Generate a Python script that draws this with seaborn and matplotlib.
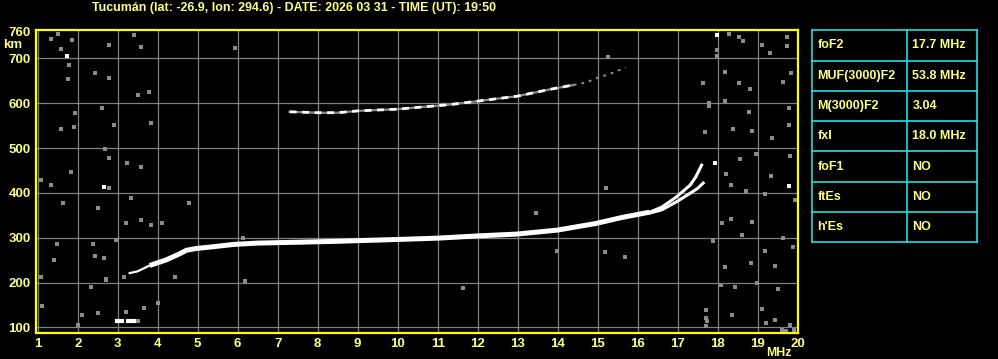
import matplotlib
matplotlib.use("Agg")
import matplotlib.pyplot as plt
import seaborn as sns
import pandas as pd

# ---------------- data ----------------
title = "Tucumán (lat: -26.9, lon: 294.6) - DATE: 2026 03 31 - TIME (UT): 19:50"

x_ticks = list(range(1, 21))
y_ticks = [100, 200, 300, 400, 500, 600, 700, 760]

# F2 ordinary trace (MHz, km)
o_freq = [3.3, 3.5, 3.8, 4.2, 4.5, 4.72, 4.97, 5.3, 5.9, 6.5, 7.56, 8.5, 9.97, 11.0, 12.0, 12.97, 14.0, 14.97, 15.6, 16.3, 16.6, 16.97, 17.31, 17.45, 17.6]
o_h = [221, 225, 238, 250, 262, 272, 276, 279, 285, 288, 290, 292, 296, 299, 304, 308, 317, 332, 345, 357, 368, 391, 417, 435, 462]

# extraordinary branch
x_freq = [16.3, 16.6, 16.97, 17.31, 17.5, 17.64]
x_h = [355, 362, 380, 399, 410, 422]

# second hop
hop_freq = [7.3, 8.0, 8.5, 9.0, 10.0, 11.3, 12.1, 13.0, 13.8, 14.4]
hop_h = [581, 579, 579, 583, 587, 597, 606, 616, 631, 641]
hop_tail_freq = [14.4, 14.7, 15.0, 15.35, 15.7]
hop_tail_h = [641, 646, 657, 667, 680]

# low echo blobs
blob_a_freq = [2.98, 3.1]
blob_b_freq = [3.27, 3.42]
blob_h = [113, 113]

# gray noise echoes
noise_f = [1.52, 1.86, 1.33, 1.58, 2.79, 3.42, 3.58, 1.78, 1.75, 2.44, 2.78, 3.5, 3.79, 1.94, 2.62,
           1.92, 2.92, 3.83, 1.58, 2.69, 2.78, 3.23, 3.58, 1.83, 1.08, 1.33, 2.78, 3.34, 2.52, 1.63,
           3.22, 3.58, 3.83, 4.12, 1.48, 2.39, 2.67, 2.43, 3.15, 2.72, 1.08, 2.33, 2.52, 2.12, 1.12,
           3.21, 3.66, 4.0, 2.02, 1.42, 2.96, 6.14, 6.18, 4.78, 4.43, 13.47, 13.98, 15.18, 15.68,
           15.27, 15.22, 18.08, 2.72, 5.94, 11.64, 3.5,
           17.98, 17.98, 18.29, 18.54, 18.63, 19.1, 19.31, 19.73, 19.73, 19.83, 18.18, 17.63, 18.54,
           18.81, 19.63, 17.78, 17.78, 18.18, 18.79, 19.78, 17.68, 18.39, 18.87, 19.37, 19.78, 18.57,
           18.95, 19.33, 19.81, 18.22, 18.33, 18.72, 19.18, 19.93, 18.12, 18.87, 18.33, 18.6, 19.64,
           17.88, 19.18, 18.18, 18.83, 19.43, 19.88, 18.98, 18.43, 19.5, 17.72, 17.72, 17.72, 17.74,
           18.37, 19.1, 19.43, 19.81, 19.22, 19.6, 19.7, 19.9]
noise_h = [755, 741, 743, 721, 730, 752, 726, 685, 654, 668, 656, 618, 626, 579, 589,
           548, 552, 555, 542, 497, 477, 467, 458, 447, 429, 418, 412, 389, 366, 377,
           332, 340, 328, 332, 287, 287, 254, 259, 212, 207, 213, 191, 133, 127, 147,
           135, 142, 154, 105, 250, 295, 299, 204, 378, 213, 356, 271, 267, 258,
           704, 410, 194, 205, 723, 187, 113,
           720, 705, 755, 747, 738, 730, 713, 749, 728, 667, 670, 646, 645,
           633, 647, 594, 600, 605, 581, 590, 537, 542, 539, 522, 552, 475,
           487, 438, 482, 442, 418, 405, 397, 384, 332, 336, 341, 306, 299,
           293, 271, 234, 244, 237, 280, 198, 189, 185, 139, 120, 104, 115,
           127, 140, 116, 105, 109, 95, 92, 94]

# white noise echoes
white_f = [1.73, 2.67, 17.98, 17.93, 19.78]
white_h = [705, 414, 752, 467, 415]

# parameter table
param_names = ["foF2", "MUF(3000)F2", "M(3000)F2", "fxI", "foF1", "ftEs", "h'Es"]
param_values = ["17.7 MHz", "53.8 MHz", "3.04", "18.0 MHz", "NO", "NO", "NO"]

# ---------------- style ----------------
W, H = 998, 359
YEL = "#ffff00"
TXT = "#ffff80"
GRID = "#808080"
CYAN = "#20e0e0"
FONT = ["Liberation Sans", "DejaVu Sans"]

plt.rcParams["font.family"] = FONT
plt.rcParams["font.weight"] = "bold"

fig = plt.figure(figsize=(W / 100, H / 100), dpi=100, facecolor="black")

L, R, T, B = 35.5, 798, 30, 333
ax = fig.add_axes([L / W, 1 - B / H, (R - L) / W, (B - T) / H])
ax.set_facecolor("black")

# grid
for xv in x_ticks[:-1]:
    ax.axvline(xv, color=GRID, lw=0.9, zorder=1)
for yv in y_ticks[:-1]:
    ax.axhline(yv, color=GRID, lw=0.9, zorder=1)

noise = pd.DataFrame({"f": noise_f, "h": noise_h})
sns.scatterplot(data=noise, x="f", y="h", ax=ax, color="#8c8c8c", marker="s",
                s=6, linewidth=0, zorder=2)
sns.scatterplot(x=white_f, y=white_h, ax=ax, color="white", marker="s",
                s=7, linewidth=0, zorder=3)

# traces
sns.lineplot(x=o_freq[:3], y=o_h[:3], ax=ax, color="white", lw=1.6, sort=False, estimator=None, zorder=4)
sns.lineplot(x=o_freq[2:20], y=o_h[2:20], ax=ax, color="white", lw=3.6, sort=False, estimator=None,
             zorder=4, solid_capstyle="butt")
sns.lineplot(x=o_freq[19:], y=o_h[19:], ax=ax, color="white", lw=2.2, sort=False, estimator=None, zorder=4)
sns.lineplot(x=x_freq, y=x_h, ax=ax, color="white", lw=2.2, sort=False, estimator=None, zorder=4)
sns.lineplot(x=hop_freq, y=hop_h, ax=ax, color="#8c8c8c", lw=1.6, sort=False, estimator=None, zorder=4)
sns.lineplot(x=hop_freq, y=hop_h, ax=ax, color="white", lw=2.0, sort=False, estimator=None, zorder=5,
             linestyle=(0, (2.5, 2.0)))
sns.lineplot(x=hop_tail_freq, y=hop_tail_h, ax=ax, color="#8c8c8c", lw=1.4, sort=False, estimator=None,
             zorder=4, linestyle=(0, (1.5, 2.5)))
sns.lineplot(x=blob_a_freq, y=blob_h, ax=ax, color="white", lw=3.0, sort=False, estimator=None, zorder=4)
sns.lineplot(x=blob_b_freq, y=blob_h, ax=ax, color="white", lw=3.0, sort=False, estimator=None, zorder=4)

ax.set_xlim(0.945, 20.01)
ax.set_ylim(87.3, 763.6)
ax.set_xticks(x_ticks)
ax.set_xticklabels([str(v) for v in x_ticks])
ax.set_yticks(y_ticks)
ax.set_yticklabels([str(v) for v in y_ticks])
ax.tick_params(length=0, colors=TXT, labelsize=9.5, pad=3.5)
for lab in ax.get_xticklabels() + ax.get_yticklabels():
    lab.set_fontweight("bold")
ax.set_xlabel("")
ax.set_ylabel("")
for sp in ax.spines.values():
    sp.set_color(YEL)
    sp.set_linewidth(1.6)
    sp.set_visible(True)
ax.grid(False)

fig.text(294 / W, 1 - 8 / H, title, color=TXT, fontsize=8.9, fontweight="bold",
         ha="center", va="center", family=FONT)
fig.text(13 / W, 1 - 45.5 / H, "km", color=TXT, fontsize=9.5, fontweight="bold",
         ha="center", va="center", family=FONT)
fig.text(779 / W, 1 - 353 / H, "MHz", color=TXT, fontsize=8.8, fontweight="bold",
         ha="center", va="center", family=FONT)

# table
tx0, tx1, tdiv = 812, 977, 907
ty0, ty1 = 30.3, 242.3
tab = fig.add_axes([tx0 / W, 1 - ty1 / H, (tx1 - tx0) / W, (ty1 - ty0) / H])
tab.set_xlim(0, tx1 - tx0)
n = len(param_names)
tab.set_ylim(n, 0)
tab.set_facecolor("black")
tab.axis("off")
for i in range(n + 1):
    tab.plot([0, tx1 - tx0], [i, i], color=CYAN, lw=1.2, clip_on=False)
tab.plot([0, 0], [0, n], color=CYAN, lw=1.2, clip_on=False)
tab.plot([tx1 - tx0, tx1 - tx0], [0, n], color=CYAN, lw=1.2, clip_on=False)
tab.plot([tdiv - tx0, tdiv - tx0], [0, n], color=CYAN, lw=1.2, clip_on=False)
for i, (nm, val) in enumerate(zip(param_names, param_values)):
    tab.text(5.5, i + 0.5, nm, color=TXT, fontsize=9, fontweight="bold", va="center", ha="left", family=FONT)
    tab.text(tdiv - tx0 + 5.5, i + 0.5, val, color=TXT, fontsize=9, fontweight="bold", va="center",
             ha="left", family=FONT)

fig.savefig("out.png", dpi=100, facecolor="black")
